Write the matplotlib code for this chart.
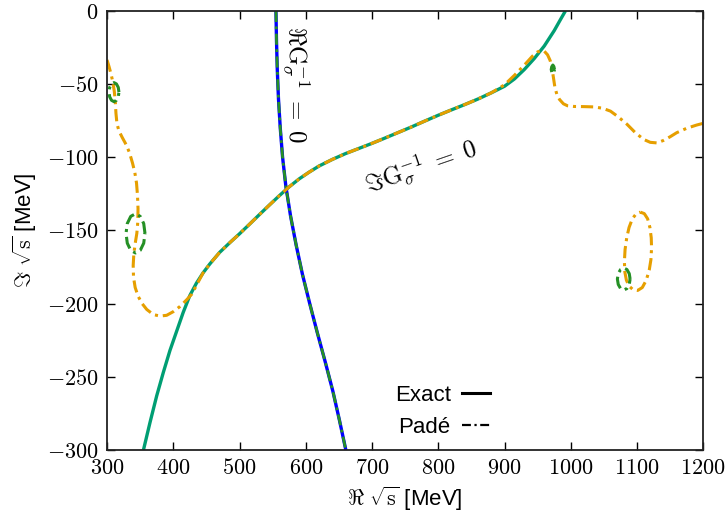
import numpy as np
import matplotlib
matplotlib.use("Agg")
import matplotlib.pyplot as plt
from matplotlib.lines import Line2D

plt.rcParams['font.family'] = ['Liberation Sans', 'DejaVu Sans']
plt.rcParams['mathtext.fontset'] = 'cm'

# Im G^-1 = 0, exact (teal)
im_exact_x = [355, 365, 375, 385, 395, 405, 415, 425, 435, 445, 455, 470, 485, 500, 515, 530, 545, 560, 575, 590, 605, 620, 640, 660, 680, 700, 720,
              740, 760, 780, 800, 820, 840, 860, 880, 900, 915, 930, 945, 960, 975, 985, 992]
im_exact_y = [-300, -281, -263, -247, -232, -219, -206, -194.5, -186, -179, -173, -165, -158.5, -152.3, -145.8, -139.2, -132.7, -126.3, -120.2, -114.8, -110.2, -106, -101.5, -97.5, -94, -90.5, -86.8,
              -83, -79.2, -75.2, -71.3, -67.6, -64, -60.2, -56, -51.5, -46.5, -40, -32.5, -24, -13.5, -5.5, 0]

# Re G^-1 = 0, exact (blue)
re_exact_x = [555, 555.8, 557, 558.8, 561.5, 565, 570, 577, 585.5, 595, 606, 617.5, 629.5, 641, 651, 660.5]
re_exact_y = [0, -20, -40, -60, -80, -100, -120, -140, -160, -180, -200, -220, -240, -260, -280, -300]

# Im G^-1 = 0, Pade (orange), open branch
im_pade_x = [300, 303, 306, 309, 311, 312.5, 313.5, 315, 318, 323, 329, 334, 338.5, 342, 344.5, 346, 346.8, 346.5, 345, 342.5, 340.5, 339.5, 340, 342.5, 347, 353, 360, 370,
             380, 390, 400, 410, 420, 428, 435, 445, 455, 470, 485, 500, 515, 530, 545, 560, 575, 590, 605, 620, 640, 660, 680, 700, 720, 740, 760, 780, 800, 820,
             840, 860, 880, 900, 915, 930, 942, 950, 956, 960, 965, 969, 972, 974, 976, 979, 983, 989, 995, 1005, 1020, 1035, 1048, 1060, 1072, 1085, 1097, 1110,
             1120, 1130, 1140, 1150, 1160, 1175, 1190, 1200]
im_pade_y = [-33.5, -38, -43, -49, -55, -62, -70, -77, -82, -86.5, -91.5, -97, -104, -110.5, -117.5, -126, -135, -144, -152, -159, -166, -174, -182, -189, -195, -200, -204, -207.5,
             -208.5, -208, -205.5, -202, -197.5, -193.5, -187.5, -179, -173, -165, -158.5, -152.3, -145.8, -139.2, -132.7, -126.3, -120.2, -114.8, -110.2, -106, -101.5, -97.5, -94, -90.5, -86.8, -83, -79.2, -75.2, -71.3, -67.6,
             -64, -60.2, -56, -50.5, -44, -37, -31, -28, -27, -27.5, -30, -34, -40, -46, -52, -57, -60.5, -63.5, -64.8, -65.3, -65.4, -65.6, -66.5, -68.5, -72.5, -77.5, -83, -87.8,
             -89.8, -90.2, -88.5, -86, -83.2, -80.2, -78, -76.8]

# Im G^-1 = 0, Pade (orange), closed loop
loop_x = [1105, 1111, 1116, 1119.5, 1121.5, 1122, 1121, 1118.5, 1114, 1108, 1101, 1094, 1088, 1084, 1081.5, 1081, 1082, 1084.5, 1088, 1093, 1099, 1105]
loop_y = [-137.5, -138.5, -142, -148, -155, -162, -170, -177, -184, -189, -191, -190.5, -188, -184, -178, -171, -163, -155, -148, -142, -138.5, -137.5]

# Re G^-1 = 0, Pade (green), small closed curves
ell1_x = [318, 317, 314.2, 310.5, 306.8, 304, 303, 304, 306.8, 310.5, 314.2, 317, 318]
ell1_y = [-55.5, -52.3, -49.9, -49, -49.9, -52.3, -55.5, -58.7, -61.1, -62, -61.1, -58.7, -55.5]
ell2_x = [357.3, 355.4, 350.2, 343, 335.8, 330.6, 328.7, 330.6, 335.8, 343, 350.2, 355.4, 357.3]
ell2_y = [-152, -145.3, -140.4, -138.6, -140.4, -145.3, -152, -158.7, -163.6, -165.4, -163.6, -158.7, -152]
ell3_x = [1089.6, 1088.3, 1084.8, 1080, 1075.2, 1071.7, 1070.4, 1071.7, 1075.2, 1080, 1084.8, 1088.3, 1089.6]
ell3_y = [-183.2, -179.5, -176.7, -175.7, -176.7, -179.5, -183.2, -186.9, -189.7, -190.7, -189.7, -186.9, -183.2]
ell4_x = [975.5, 974.5, 973, 971.5, 970.5, 971.5, 973, 974.5, 975.5]
ell4_y = [-40, -38, -37, -38, -40, -42, -43, -42, -40]

xticks = [300, 400, 500, 600, 700, 800, 900, 1000, 1100, 1200]
yticks = [0, -50, -100, -150, -200, -250, -300]

TEAL = '#009e73'
ORANGE = '#e69f00'
BLUE = '#0000ff'
GREEN = '#259025'
dashdot = (4, 1.6, 1, 1.6)

fig = plt.figure(figsize=(7.28, 5.19), dpi=100)
ax = fig.add_axes([0.147, 0.133, 0.819, 0.846])

ax.plot(im_exact_x, im_exact_y, color=TEAL, lw=2.4, solid_capstyle='butt')
ax.plot(re_exact_x, re_exact_y, color=BLUE, lw=2.4, solid_capstyle='butt')
ax.plot(re_exact_x, re_exact_y, color=GREEN, lw=2.0, linestyle=(0, dashdot))
ax.plot(im_pade_x, im_pade_y, color=ORANGE, lw=2.2, linestyle=(0, dashdot))
ax.plot(loop_x, loop_y, color=ORANGE, lw=2.2, linestyle=(0, dashdot))
for ex, ey in [(ell1_x, ell1_y), (ell2_x, ell2_y), (ell3_x, ell3_y), (ell4_x, ell4_y)]:
    ax.plot(ex, ey, color=GREEN, lw=2.2, linestyle=(0, dashdot))

ax.set_xlim(300, 1200)
ax.set_ylim(-300, 0)
ax.set_xticks(xticks)
ax.set_xticklabels(["$%d$" % t for t in xticks])
ax.set_yticks(yticks)
ax.set_yticklabels(["$%d$" % t for t in yticks])
ax.tick_params(direction='in', length=6, width=1.0, labelsize=16, top=True, right=True, pad=6)
for s in ax.spines.values():
    s.set_linewidth(1.3)
    s.set_color('#222222')

ax.set_xlabel(r"$\Re\ \sqrt{\mathrm{s}}$ [MeV]", fontsize=16, labelpad=4)
ax.set_ylabel(r"$\Im\ \sqrt{\mathrm{s}}$ [MeV]", fontsize=16, labelpad=6)

ax.text(585, -50, r"$\Re\mathrm{G}_\sigma^{-1}\;=\;0$", rotation=-90, fontsize=18,
        ha='center', va='center', rotation_mode='anchor')
ax.text(774, -107, r"$\Im\mathrm{G}_\sigma^{-1}\;=\;0$", rotation=19, fontsize=18,
        ha='center', va='center', rotation_mode='anchor')

handles = [Line2D([], [], color='black', lw=2.2),
           Line2D([], [], color='black', lw=1.6, linestyle=(0, dashdot))]
ax.legend(handles, ["Exact", "Padé"], loc='center', bbox_to_anchor=(0.562, 0.088),
          frameon=False, markerfirst=False, fontsize=16, handlelength=1.25,
          handletextpad=0.5, labelspacing=0.5)

fig.savefig("out.png", dpi=100)
